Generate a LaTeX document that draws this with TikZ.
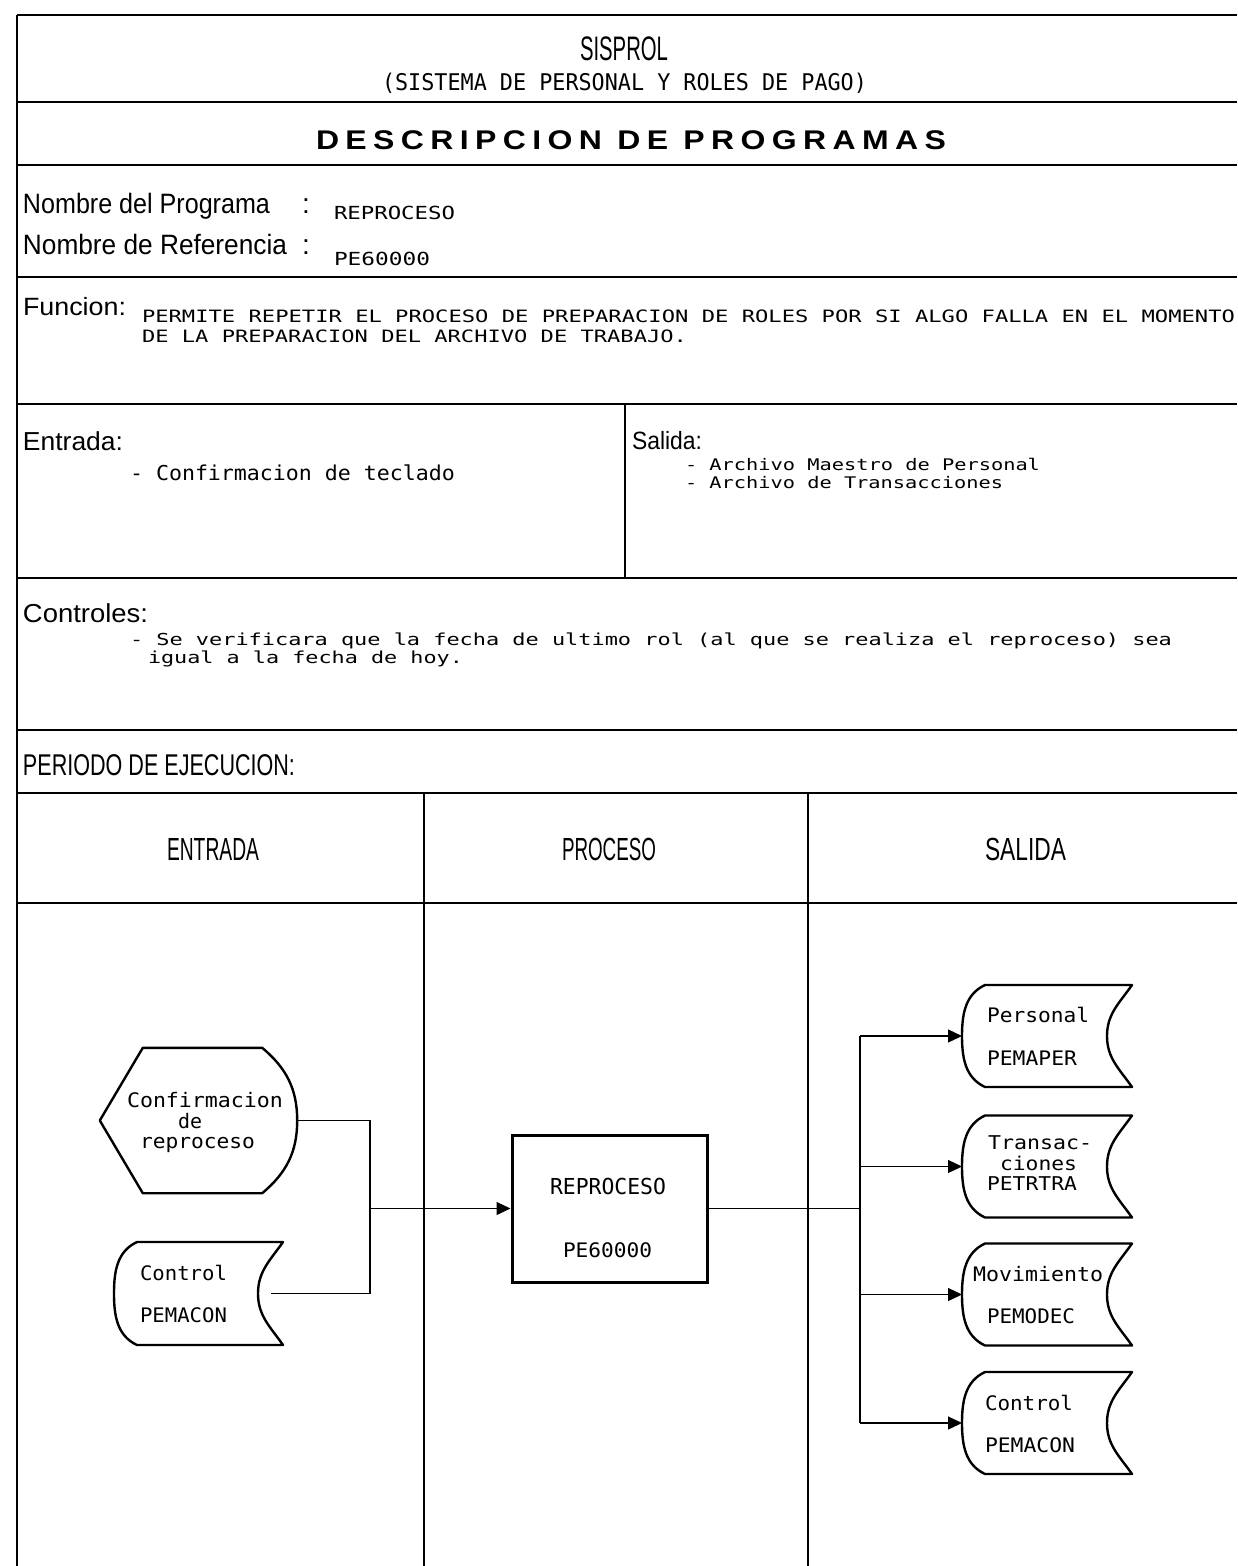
\documentclass[tikz,border=0pt]{standalone}
\usepackage{fontspec}
\usepackage{graphicx}
\usetikzlibrary{arrows.meta,calc}
\newfontfamily\headf{Liberation Sans}
\newfontfamily\plotf{DejaVu Sans Mono}
\newfontfamily\titlef{Liberation Sans}[LetterSpace=20]
\newcommand\Hx[3]{\resizebox{#2pt}{\height}{\fontsize{#1pt}{#1pt}\selectfont\headf #3}}
\newcommand\Mx[3]{\resizebox{#2pt}{\height}{\fontsize{#1pt}{#1pt}\selectfont\plotf #3}}
\newcommand\Tx[3]{\resizebox{#2pt}{\height}{\fontsize{#1pt}{#1pt}\selectfont\titlef\bfseries #3}}
\newcommand\storepath[1]{%
  \draw[shp] ($(#1.north west)+(23,0)$) -- (#1.north east)
    to[out=235,in=90] ($(#1.east)+(-25,0)$)
    to[out=270,in=125] (#1.south east)
    -- ($(#1.south west)+(23,0)$)
    to[out=155,in=270] (#1.west)
    to[out=90,in=205] ($(#1.north west)+(23,0)$);}
\begin{document}
\begin{tikzpicture}[x=1pt,y=1pt,
  rule/.style={line width=1.8pt},
  vrule/.style={line width=1.1pt},
  shp/.style={line width=2.4pt,line join=round,line cap=round},
  conn/.style={line width=1.3pt},
  arr/.style={conn,-{Triangle[length=14pt,width=13pt]}},
  txt/.style={inner sep=0pt,outer sep=0pt,anchor=base west},
  store/.style={inner sep=0pt,outer sep=0pt,minimum width=170pt,minimum height=102pt}]
\fill[white] (0,0) rectangle (1237,-1566);
\useasboundingbox (0,0) rectangle (1237,-1566);
% form rules
\foreach \yy in {15,102,165,277,404,578,730,793,903}
  \draw[rule] (17,-\yy) -- (1237,-\yy);
\draw[vrule] (17,-15) -- (17,-1566);
\draw[vrule] (625,-404) -- (625,-578);
\draw[vrule] (424,-793) -- (424,-1566);
\draw[vrule] (808,-793) -- (808,-1566);
% header texts
\node[txt] (t1) at (580,-60) {\Hx{34}{88}{SISPROL}};
\node[txt] (t2) at (382,-90) {\Mx{23}{485}{(SISTEMA DE PERSONAL Y ROLES DE PAGO)}};
\node[txt] (t3) at (316,-149) {\Tx{27}{630}{DESCRIPCION DE PROGRAMAS}};
\node[txt] (t4) at (23,-213) {\Hx{28}{247}{Nombre del Programa}};
\node[txt] (t5) at (302,-213) {\fontsize{28pt}{28pt}\selectfont\headf :};
\node[txt] (t6) at (334,-219) {\Mx{18}{121}{REPROCESO}};
\node[txt] (t7) at (23,-254) {\Hx{28}{264}{Nombre de Referencia}};
\node[txt] (t8) at (302,-254) {\fontsize{28pt}{28pt}\selectfont\headf :};
\node[txt] (t9) at (334,-265) {\Mx{18}{96}{PE60000}};
\node[txt] (t10) at (23,-315) {\Hx{25}{103}{Funcion:}};
\node[txt] (t11) at (142,-322) {\Mx{17}{1093}{PERMITE REPETIR EL PROCESO DE PREPARACION DE ROLES POR SI ALGO FALLA EN EL MOMENTO}};
\node[txt] (t12) at (142,-342) {\Mx{17}{545}{DE LA PREPARACION DEL ARCHIVO DE TRABAJO.}};
\node[txt] (t13) at (23,-450) {\Hx{26}{100}{Entrada:}};
\node[txt] (t14) at (130,-480) {\Mx{20.5}{325}{- Confirmacion de teclado}};
\node[txt] (t15) at (632,-449) {\Hx{25}{70}{Salida:}};
\node[txt] (t16) at (685,-470) {\Mx{16}{355}{- Archivo Maestro de Personal}};
\node[txt] (t17) at (685,-488) {\Mx{16}{318}{- Archivo de Transacciones}};
\node[txt] (t18) at (23,-622) {\Hx{26}{125}{Controles:}};
\node[txt] (t19) at (130,-645) {\Mx{16.5}{1042}{- Se verificara que la fecha de ultimo rol (al que se realiza el reproceso) sea}};
\node[txt] (t20) at (148,-663) {\Mx{16.5}{315}{igual a la fecha de hoy.}};
\node[txt] (t21) at (23,-775) {\Hx{30}{272}{PERIODO DE EJECUCION:}};
\node[txt] (t22) at (167,-860) {\Hx{32}{92}{ENTRADA}};
\node[txt] (t23) at (562,-860) {\Hx{32}{94}{PROCESO}};
\node[txt] (t24) at (985,-860) {\Hx{32}{81}{SALIDA}};
% shapes
\node[inner sep=0pt,minimum width=197pt,minimum height=145pt] (disp) at (198.5,-1120.5) {};
\draw[shp] (disp.west) -- ($(disp.north west)+(43,0)$) -- ($(disp.north east)+(-35,0)$)
  to[out=-40,in=90] (disp.east) to[out=270,in=40] ($(disp.south east)+(-35,0)$)
  -- ($(disp.south west)+(43,0)$) -- cycle;
\node[store,minimum width=169pt,minimum height=103pt] (ctl1) at (198.5,-1293.5) {};
\storepath{ctl1}
\node[draw,line width=3pt,inner sep=0pt,minimum width=195pt,minimum height=147pt] (proc) at (609.5,-1208.5) {};
\node[store] (out1) at (1047,-1036) {};
\node[store] (out2) at (1047,-1166.5) {};
\node[store] (out3) at (1047,-1294.5) {};
\node[store] (out4) at (1047,-1423) {};
\storepath{out1}
\storepath{out2}
\storepath{out3}
\storepath{out4}
% shape texts
\node[txt] (d1) at (127,-1107) {\Mx{20}{156}{Confirmacion}};
\node[txt] (d2) at (178,-1128) {\Mx{20}{24}{de}};
\node[txt] (d3) at (140,-1148) {\Mx{20}{115}{reproceso}};
\node[txt] (d4) at (140,-1280) {\Mx{20}{87}{Control}};
\node[txt] (d5) at (140,-1322) {\Mx{20}{87}{PEMACON}};
\node[txt] (d6) at (550,-1194) {\Mx{22}{116}{REPROCESO}};
\node[txt] (d7) at (563,-1257) {\Mx{20}{89}{PE60000}};
\node[txt] (d8) at (987,-1022) {\Mx{20}{102}{Personal}};
\node[txt] (d9) at (987,-1065) {\Mx{20}{90}{PEMAPER}};
\node[txt] (d10) at (988,-1149) {\Mx{19}{104}{Transac-}};
\node[txt] (d11) at (1000,-1170) {\Mx{19}{77}{ciones}};
\node[txt] (d12) at (987,-1190) {\Mx{19}{90}{PETRTRA}};
\node[txt] (d13) at (973,-1281) {\Mx{20}{130}{Movimiento}};
\node[txt] (d14) at (987,-1323) {\Mx{20}{88}{PEMODEC}};
\node[txt] (d15) at (985,-1410) {\Mx{20}{88}{Control}};
\node[txt] (d16) at (985,-1452) {\Mx{20}{90}{PEMACON}};
% connectors
\coordinate (jn) at (370,-1208.5);
\coordinate (c1) at ($(ctl1.east)+(-12,0)$);
\coordinate (bus) at (860,-1208.5);
\draw[conn] (disp.east) -| (jn);
\draw[conn] (c1) -| (jn);
\draw[arr] (jn) -- (proc.west);
\draw[conn] (proc.east) -- (bus);
\draw[conn] (out1.west -| bus) -- (out4.west -| bus);
\foreach \i in {1,2,3,4}
  \draw[arr] (out\i.west -| bus) -- (out\i.west);
\end{tikzpicture}
\end{document}
